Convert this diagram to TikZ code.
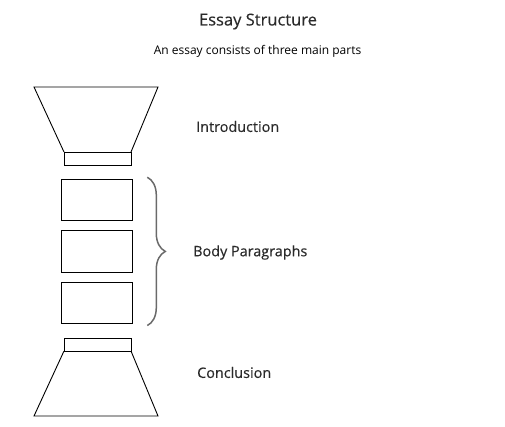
\documentclass[tikz,border=0pt]{standalone}
\usepackage{fontspec}
\setmainfont{Open Sans}
\newfontfamily\semib{Open Sans}[FakeBold=0.35]
\usetikzlibrary{calc,positioning,decorations.pathreplacing}
\definecolor{txtgray}{HTML}{2A2A2A}
\definecolor{bracegray}{HTML}{6A6A6A}

\begin{document}
\begin{tikzpicture}[x=1pt,y=-1pt]
  % Global styles
  \tikzset{
    part/.style  = {draw, line width=0.9pt, minimum width=67pt, minimum height=13pt, inner sep=0pt, outer sep=0pt},
    para/.style  = {draw, line width=0.9pt, minimum width=71pt, minimum height=41.5pt, inner sep=0pt, outer sep=0pt},
    lab/.style   = {font=\fontsize{14.4}{16}\selectfont\semib, text=txtgray, anchor=west, inner sep=0pt},
    funnel/.style = {line width=0.9pt, line join=miter}
  }
  \useasboundingbox (0,0) rectangle (505,426);

  % ========= Title =========
  \node[font=\fontsize{16.5}{19}\selectfont\semib, text=txtgray] (title) at (258,21.5) {Essay Structure};
  \node[font=\fontsize{12}{14}\selectfont, text=black] (sub) at (257.5,51.5) {An essay consists of three main parts};

  % ========= Introduction: funnel + neck =========
  \node[part] (intro) at (97.5,158.5) {};
  \draw[funnel] (intro.north west) -- (34,87) -- (158,87) -- (intro.north east);
  \node[lab] (introlab) at (196,126.5) {Introduction};

  % ========= Body paragraphs =========
  \node[para] (body1) at (96.8,200) {};
  \node[para] (body2) at (96.8,251.2) {};
  \node[para] (body3) at (96.8,302.8) {};
  % brace covering the three boxes
  \coordinate (btop) at ($(body1.north east)+(15,-2)$);
  \coordinate (bbot) at ($(body3.south east)+(15,2)$);
  \draw[bracegray, line width=1.5pt, decorate, decoration={brace, amplitude=18pt}] (btop) -- (bbot);
  \node[lab] (bodylab) at (193,252.5) {Body Paragraphs};

  % ========= Conclusion: neck + funnel =========
  \node[part] (concl) at (97.5,344.5) {};
  \draw[funnel] (concl.south west) -- (34,416) -- (158,416) -- (concl.south east);
  \node[lab] (concllab) at (197,372.5) {Conclusion};
\end{tikzpicture}
\end{document}
